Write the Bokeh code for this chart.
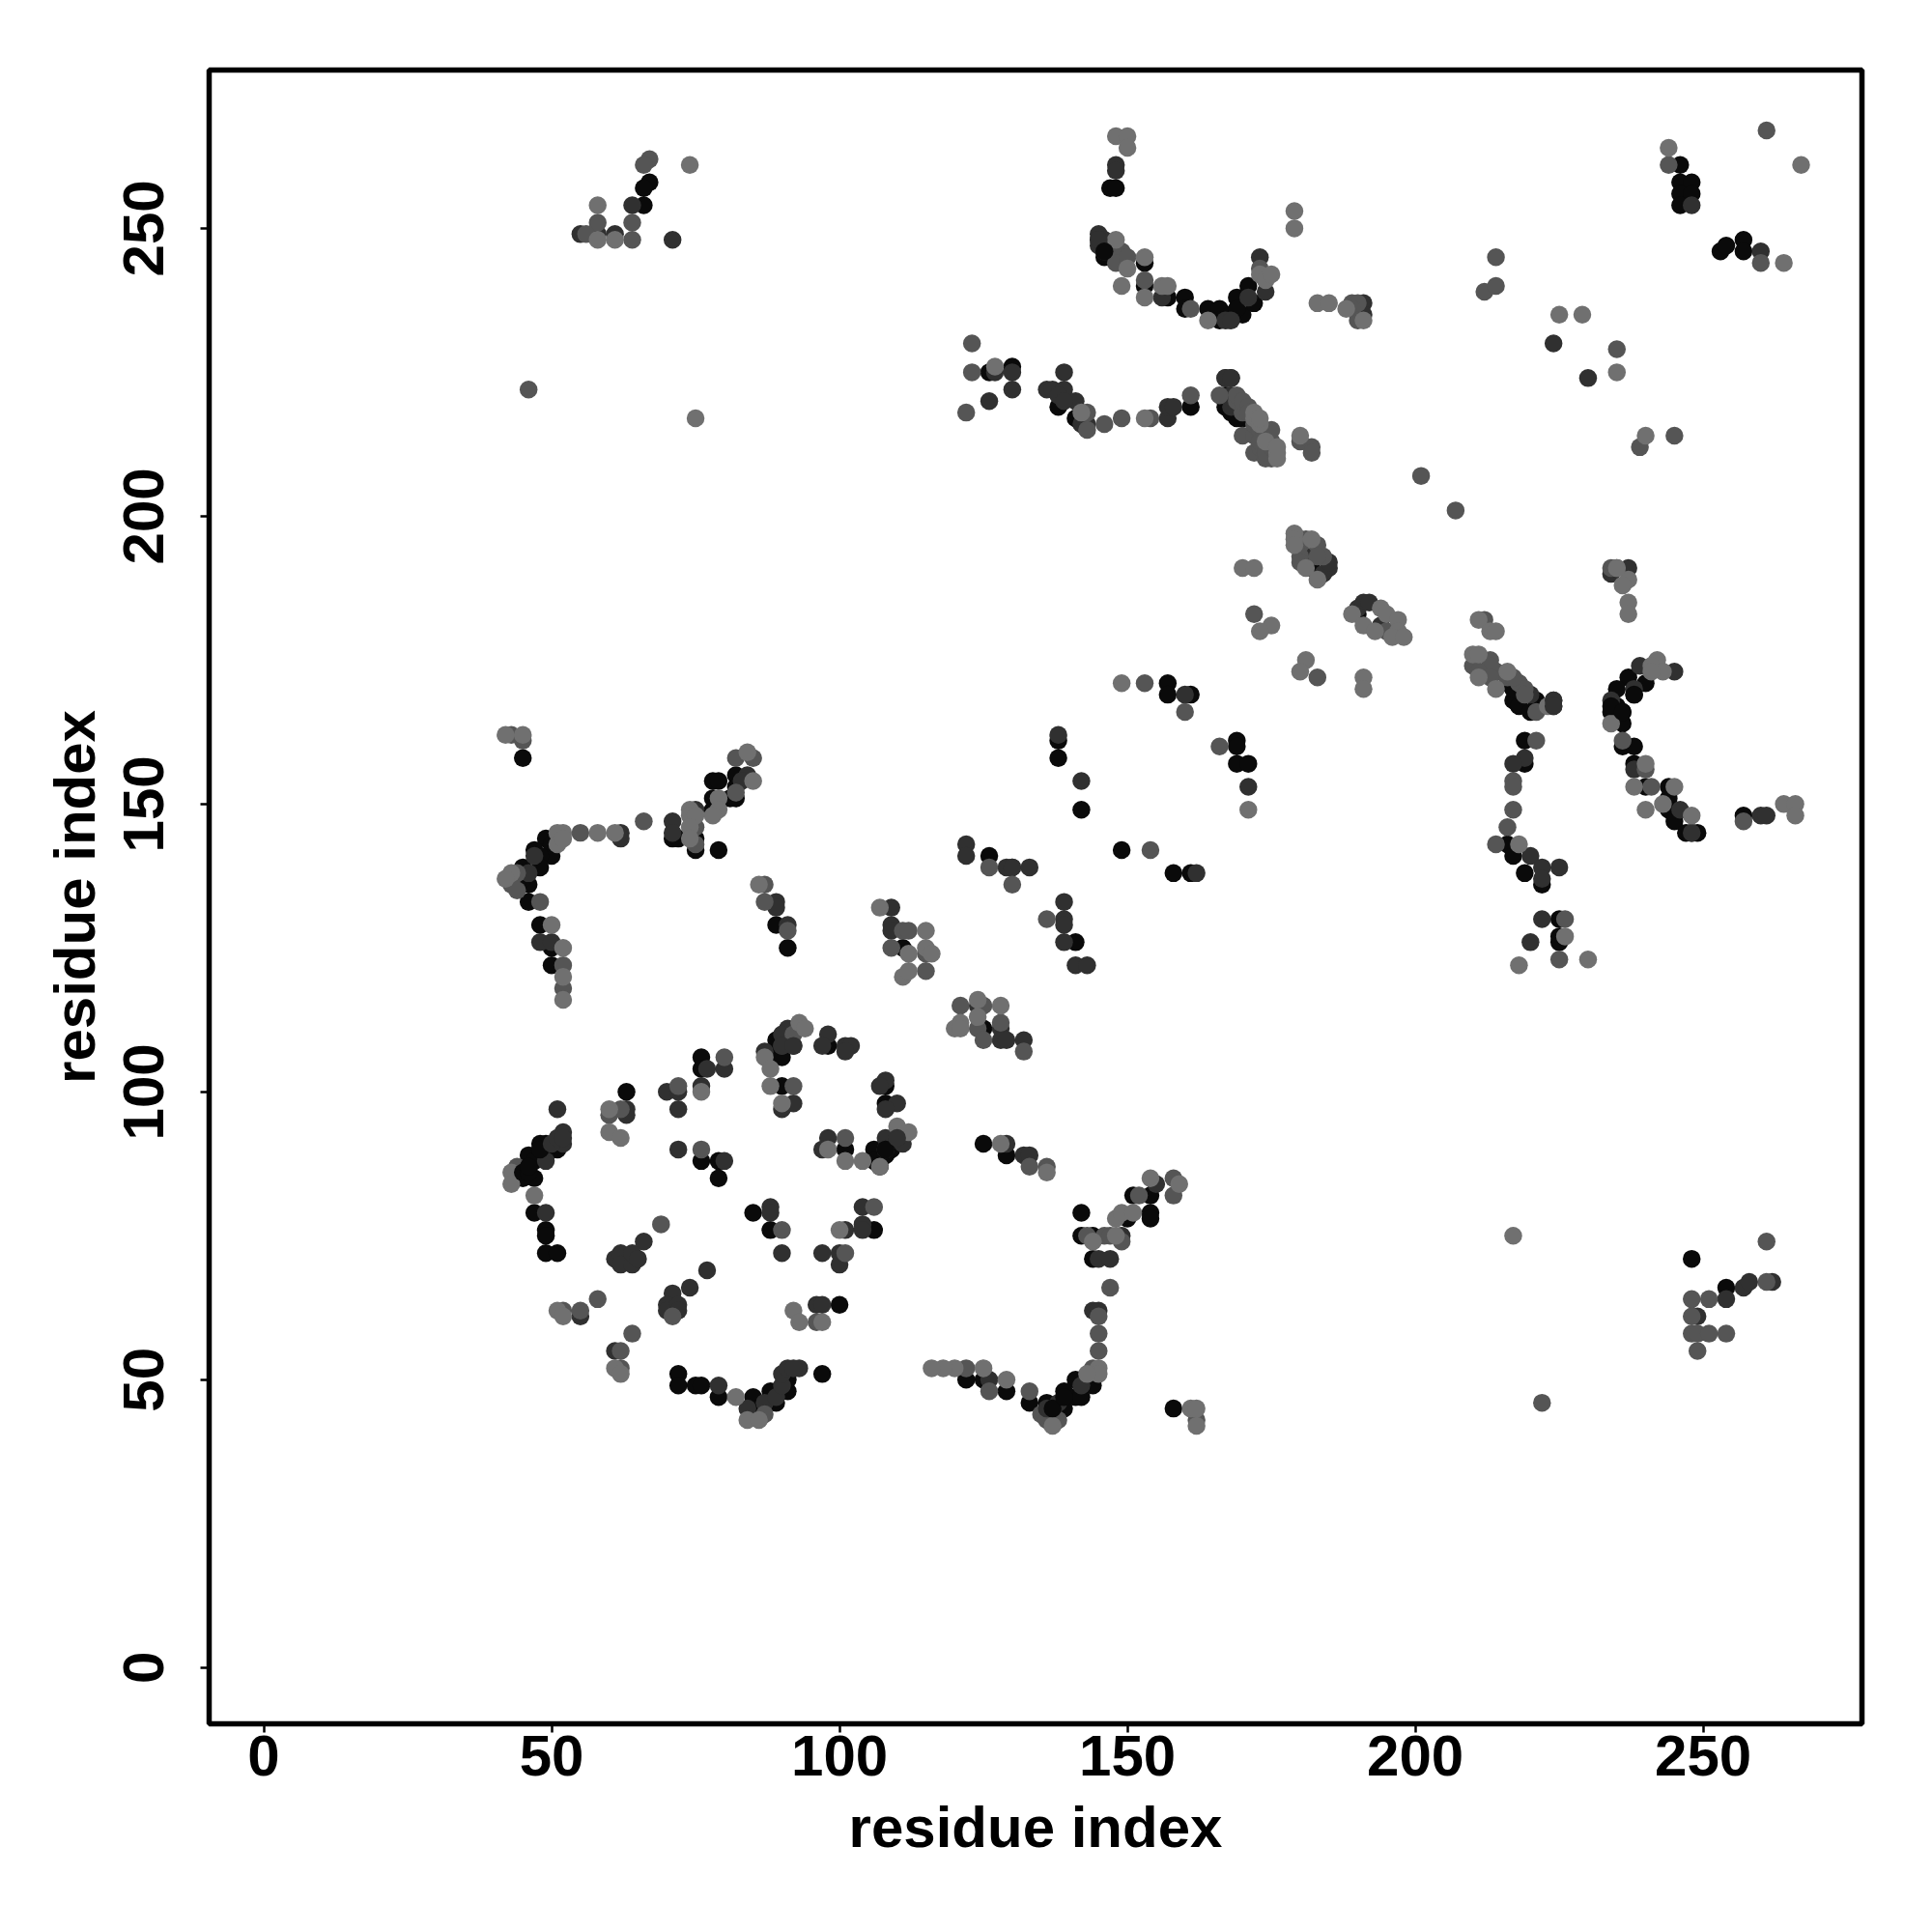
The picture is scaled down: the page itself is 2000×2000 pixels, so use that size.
from bokeh.plotting import figure
from bokeh.models import ColumnDataSource, FixedTicker
from bokeh.embed import file_html
from bokeh.resources import INLINE

K, M, G, L = 10, 48, 85, 112

ring_x = [51,52,52,51,49,48,49,48,46,46,47,49,47,45,43,43,44,47,47,49,49,49,49,51,
          63,63,63,60,60,60,62,62,70,72,72,72,76,76,77,80,80,76,76,
          72,76,76,79,80,79,69,66,61,62,62,64,64,65,77,74,71,70,70,71,72,72,
          58,51,52,52,55,55,64,61,62,61,62,62,72,72,75,76,79,79,82,
          84,86,87,84,85,85,86,87,89,88,89,91,90,91,90,91,93,92,97,
          92,93,96,97,96,97,100,90,97,100,101,100,85,88,88,88,90,
          100,101,104,104,106,104,106,98,97,98,101,101,101,104,
          106,106,107,107,108,108,109,108,111,110,110,112,
          108,107,108,108,110,108,98,97,98,101,102,101,
          93,94,92,91,90,89,92,90,89,87,88,90,87,88,88,90,92,90,92,90]
ring_y = [97,93,91,90,91,91,89,89,89,87,88,88,85,85,86,84,87,82,79,79,76,75,72,72,
          100,97,96,97,96,93,92,97,100,101,100,97,106,104,104,106,104,101,100,
          90,90,88,88,88,85,77,74,71,72,70,70,72,71,69,66,65,63,62,61,63,62,
          64,62,62,61,62,61,58,55,55,52,52,51,51,49,49,49,49,47,47,
          43,43,44,45,47,45,45,46,46,48,47,48,49,50,51,52,52,52,51,
          62,60,60,60,63,63,63,72,72,72,72,70,79,80,79,76,76,
          76,76,77,76,76,80,80,92,90,90,92,90,88,88,
          90,88,87,87,92,89,90,90,91,92,94,93,
          102,101,101,98,98,97,110,108,108,108,108,107,
          112,111,110,111,110,109,108,108,107,107,106,106,106,104,101,101,101,98,98,97]
ring_s = [M,M,M,K,K,K,K,K,K,K,K,M,K,K,L,L,G,L,K,M,K,K,K,K,
          K,M,M,L,G,L,L,G,M,G,M,M,K,K,M,G,M,M,L,
          M,G,K,K,M,K,G,M,M,M,M,M,M,M,M,M,M,M,M,G,M,M,
          G,L,G,L,G,M,G,M,G,L,G,L,K,K,K,K,M,K,L,
          L,L,G,M,K,K,K,M,K,K,M,K,M,K,M,M,M,M,K,
          L,L,G,L,M,M,K,M,M,M,G,M,K,M,M,K,G,
          L,M,M,M,K,M,G,M,M,L,G,K,L,L,
          K,K,L,K,M,K,K,M,M,M,L,L,
          M,M,K,K,M,M,M,M,K,M,M,M,
          L,L,G,M,M,K,M,M,K,M,K,K,L,L,L,K,G,L,M,M]

left_x = [42,43,45,45,45,84,82,85,82,84,85,83,82,82,82,81,78,79,78,79,79,78,78,
          75,74,74,75,75,74,75,74,75,75,79,71,71,71,72,66,62,62,61,58,55,52,51,51,52,
          49,50,50,47,48,48,47,45,46,44,46,45,44,43,42,43,44,46,48,48,50,48,50,50,52,50,52,52,52,52,
          86,87,87,89,89,89,91,91,91,107,109,109,109,111,112,115,109,111,112,115,116,115,111,112,115,
          121,124,125,124,128,128,121,120,121,124,125,124,128,125,128,129,132,132,
          125,128,129,129,132,133,133,136,136]
left_y = [162,162,162,161,158,159,158,158,155,155,154,154,153,152,151,151,154,154,151,151,149,148,149,
          149,149,148,148,146,146,144,144,142,143,142,147,145,144,144,147,145,144,145,145,145,145,145,143,144,
          144,143,141,142,141,139,141,139,138,138,136,137,136,138,137,136,135,133,133,129,129,126,126,125,125,122,122,120,118,116,
          136,136,133,133,132,129,129,128,125,132,132,129,128,128,128,128,125,125,124,125,124,124,120,121,121,
          115,116,115,115,115,112,112,111,111,113,111,111,111,109,109,109,109,107,
          91,91,91,89,89,89,87,87,86]
left_s = [L,G,L,G,K,L,G,G,K,M,L,M,K,G,K,K,K,K,K,L,L,L,K,
          M,L,L,L,G,L,K,L,K,G,K,M,M,K,K,G,M,M,L,L,G,L,L,L,L,
          K,K,K,K,K,K,M,K,M,G,K,K,K,L,L,G,G,K,G,K,L,M,M,K,L,K,G,L,G,L,
          L,G,G,M,M,K,M,G,K,L,M,M,M,G,G,L,G,K,L,L,L,G,L,L,G,
          G,L,G,M,L,G,L,L,L,L,K,G,M,G,M,M,M,G,
          K,L,M,K,M,M,G,G,L]

low_x = [142,142,143,144,144,146,147,148,149,149,144,145,147,148,149,150,151,151,152,154,154,154,154,155,158,158,159,
         147,144,145,145,145,145,144,145,145,143,144,141,141,142,142,139,139,138,136,136,135,137,138,136,137,
         133,133,129,129,126,126,125,122,125,122,120,118,116,158,161,162,162,162,
         122,122,126,126,129,130,130,133,130,139,136,139,139,139,141,141,143,
         138,138,138,142,142,149,154,158,161,162]
low_y = [79,75,75,75,74,75,75,75,75,74,71,71,71,78,79,78,79,82,82,82,79,78,85,84,85,82,84,
         66,62,62,61,58,55,52,52,51,51,49,50,47,47,49,48,45,46,46,44,44,42,43,43,44,
         48,46,50,48,50,48,50,50,52,52,52,52,52,45,45,45,43,42,
         143,141,141,139,139,139,139,139,136,133,130,130,129,126,126,122,122,
         162,161,158,154,149,142,142,138,138,138]
low_s = [K,K,G,K,L,G,G,L,M,G,K,M,M,L,L,K,L,K,G,K,K,K,L,M,G,G,L,
         G,M,M,G,G,G,G,L,L,L,K,K,K,K,M,K,K,M,K,K,G,L,G,G,K,
         G,K,L,K,M,G,K,K,L,G,L,L,L,K,L,L,G,L,
         M,M,K,G,M,M,M,M,G,M,G,M,M,M,K,M,M,
         M,K,K,M,K,K,G,K,K,M]

top_x = [148,150,150,148,148,147,148,145,145,145,146,146,146,148,148,149,149,148,150,150,153,153,149,153,153,153,156,157,156,157,160,160,161,
         164,164,166,166,167,168,169,168,170,169,171,171,172,173,173,173,174,174,175,
         179,179,183,185,188,189,190,191,189,190,191,191,
         123,123,126,127,127,130,130,130,126,122,
         139,136,137,139,138,138,141,139,141,142,143,143,142,143,146,149,153,154,157,157,158,161,161,
         167,168,166,167,168,168,169,169,170,170,172,173,170,172,172,173,174,175,175,176,174,176,180,180,182,182,
         167,168,169,170,171,167,168,169,171,172,173,172,173,174,175,173,174,175,176]
top_y = [266,266,264,261,260,257,257,249,248,247,248,246,245,248,246,246,245,244,245,243,245,244,240,241,240,238,240,240,238,238,238,236,236,
         236,234,236,234,234,234,238,235,235,236,240,238,237,245,243,242,239,241,242,
         253,250,237,237,236,237,237,237,236,234,234,235,
         230,225,225,225,226,226,225,222,220,218,
         225,222,222,222,221,219,220,220,217,216,218,216,218,215,216,217,217,217,217,219,219,219,221,
         224,224,221,221,221,219,220,218,218,217,217,216,214,214,211,212,213,213,210,211,210,210,214,213,212,211,
         220,220,221,220,219,219,218,217,218,218,217,216,215,214,215,213,211,212,212]
top_s = [L,L,L,M,M,K,K,M,M,M,M,M,K,L,G,G,G,G,G,L,L,K,L,G,K,L,L,L,M,K,K,K,G,
         K,L,K,K,M,M,K,K,K,K,K,M,K,M,G,L,M,L,L,
         L,L,L,L,L,G,G,M,G,G,L,M,
         G,G,K,M,L,K,M,M,M,G,
         M,M,M,M,M,K,M,M,K,M,G,M,L,G,G,G,L,G,M,M,M,K,G,
         M,M,G,K,M,M,G,K,G,K,L,L,G,G,G,G,L,G,G,L,G,L,L,G,G,G,
         K,K,G,G,G,K,K,K,G,L,L,G,G,G,G,G,G,G,L]

right_x = [179,179,179,180,180,180,182,181,181,180,184,185,183,183,182,181,183,184,185,
           170,172,172,175,173,191,190,192,189,190,194,195,194,191,193,197,197,196,198,195,
           211,212,213,214,210,211,210,211,213,212,214,214,216,218,219,217,218,221,220,221,224,224,223,
           181,180,183,191,191,219,221,219,217,219,217,217,217,216,214,216,218,217,220,219,222,225,222,222,
           222,225,226,225,226,225,220,225,218,230,
           237,237,234,235,237,234,237,236,235,
           242,239,241,245,243,241,237,240,238,235,238,235,234,236,234,234,236,
           236,236,238,238,240,238,240,238,240,241,244,245,240,243,244,246,244,245,248,248,249,248,247,
           213,211,213,214,216,217,216,218,217,219,220]
right_y = [197,196,195,196,195,193,196,196,193,192,193,191,195,193,191,191,189,190,192,
           191,191,183,181,180,185,184,185,183,183,184,183,181,181,180,182,180,179,179,180,
           182,182,180,180,176,176,174,172,175,173,170,173,173,171,170,168,167,168,166,166,168,167,167,
           175,173,172,172,170,161,161,158,157,157,154,153,149,146,143,143,143,141,141,138,139,139,137,136,
           130,130,130,127,127,126,126,123,122,123,
           185,183,191,191,191,190,189,188,191,
           175,174,174,173,173,173,172,171,170,170,169,167,168,166,166,164,164,
           161,160,160,157,157,156,156,153,153,153,153,153,149,150,151,149,149,147,148,145,145,145,145,
           174,173,172,173,172,172,171,171,170,169,169]
right_s = [L,L,L,G,G,G,L,G,M,G,G,M,G,G,K,L,L,M,M,
           L,L,G,L,L,M,M,M,L,K,L,L,M,L,L,L,L,L,L,G,
           L,G,L,L,L,L,G,L,G,G,L,G,L,G,G,K,K,K,K,G,M,M,L,
           L,L,G,L,L,K,G,M,M,K,G,G,G,G,G,K,L,K,M,K,M,M,M,K,
           M,K,G,K,L,K,M,G,L,L,
           L,L,G,G,M,M,L,L,L,
           L,M,L,M,L,L,K,K,M,K,K,K,M,K,K,L,K,
           G,K,K,K,L,M,G,L,K,G,K,L,L,L,K,M,K,K,L,M,K,K,K,
           G,G,G,M,G,G,K,M,K,G,M]

corner_x = [248,248,251,248,249,248,249,251,249,254,254,254,257,258,261,262,261,217,222,
            244,244,246,246,248,246,248,246,248,253,254,257,257,260,260,264,261,267,
            257,257,260,261,264,266,266,
            74,71,67,66,67,66,66,64,64,64,61,61,58,58,58,58,55,56,46,75,
            224,225,229,230,235,235,212,214,214,239,240,245,201,207,
            149,153,157,157,160,161,160,166,169,169,169,171,171,171]
corner_y = [71,64,64,61,61,58,58,58,55,58,66,64,66,67,67,67,74,75,46,
            264,261,261,258,258,256,256,254,254,246,247,248,246,246,244,244,267,261,
            147,148,148,148,150,150,148,
            261,248,262,261,258,257,254,254,251,248,249,248,254,251,249,248,249,249,222,217,
            230,235,235,224,229,225,239,240,245,212,214,214,207,201,
            171,171,171,169,169,169,166,160,161,160,157,157,153,149]
corner_s = [K,G,G,G,M,G,G,G,G,G,K,M,M,M,G,M,G,L,G,
            L,G,K,K,K,K,K,K,M,K,K,K,K,M,G,L,G,L,
            G,K,M,M,L,L,L,
            L,M,G,G,K,K,K,M,G,G,M,L,L,G,M,L,M,G,G,L,
            M,L,L,M,G,L,G,G,G,G,L,G,G,G,
            L,G,K,K,M,K,G,G,K,K,K,K,M,L]

# dark contacts that lie over the paler ones in the picture
over_x = [45,46,46,48,50,51,52,136,137,139,224,224,167,168,234,236,238,145,146,90,92,108,110]
over_y = [86,86,87,90,91,92,92,45,45,47,168,167,224,224,167,166,169,248,246,108,108,90,92]
over_s = [K,K,K,K,M,M,M,M,K,K,M,M,M,M,K,K,K,M,K,M,M,K,M]

tick_values = [0, 50, 100, 150, 200, 250]
axis_title = "residue index"

report = []
for name, a, b, c in [("ring",ring_x,ring_y,ring_s),("left",left_x,left_y,left_s),("low",low_x,low_y,low_s),
                      ("top",top_x,top_y,top_s),("right",right_x,right_y,right_s),("corner",corner_x,corner_y,corner_s),
                      ("over",over_x,over_y,over_s)]:
    report.append((name, len(a), len(b), len(c)))
if any(not (r[1] == r[2] == r[3]) for r in report):
    raise SystemExit(str(report))

xs = ring_x + left_x + low_x + top_x + right_x + corner_x
ys = ring_y + left_y + low_y + top_y + right_y + corner_y
ss = ring_s + left_s + low_s + top_s + right_s + corner_s
order = sorted(range(len(xs)), key=lambda i: ss[i])
plot_x = [xs[i] for i in order] + over_x
plot_y = [ys[i] for i in order] + over_y
plot_s = [ss[i] for i in order] + over_s
colors = ["#%02x%02x%02x" % (v, v, v) for v in plot_s]
source = ColumnDataSource(dict(x=plot_x, y=plot_y, c=colors))

p = figure(frame_width=1711, frame_height=1712, output_backend="svg", toolbar_location=None,
           x_range=(-9.48, 277.57), y_range=(-9.77, 277.5),
           min_border_left=216, min_border_top=72, min_border_right=20, min_border_bottom=120)
p.scatter("x", "y", source=source, size=18.5, marker="circle", fill_color="c", line_color=None)

p.grid.visible = False
p.outline_line_color = "black"
p.outline_line_width = 5.5
for ax in (p.xaxis[0], p.yaxis[0]):
    ax.ticker = FixedTicker(ticks=tick_values)
    ax.axis_label = axis_title
    ax.axis_label_text_font = "Liberation Sans"
    ax.axis_label_text_font_style = "bold"
    ax.axis_label_text_font_size = "60px"
    ax.axis_label_text_color = "black"
    ax.major_label_text_font = "Liberation Sans"
    ax.major_label_text_font_style = "bold"
    ax.major_label_text_font_size = "60px"
    ax.major_label_text_color = "black"
    ax.axis_line_color = None
    ax.major_tick_line_color = "black"
    ax.major_tick_line_width = 2.5
    ax.major_tick_out = 9
    ax.major_tick_in = 0
    ax.minor_tick_line_color = None
p.yaxis[0].major_label_orientation = "parallel"
p.xaxis[0].major_label_standoff = 3
p.yaxis[0].major_label_standoff = 38
p.xaxis[0].axis_label_standoff = 17
p.yaxis[0].axis_label_standoff = 15

open("out.html", "w").write(file_html(p, INLINE))
